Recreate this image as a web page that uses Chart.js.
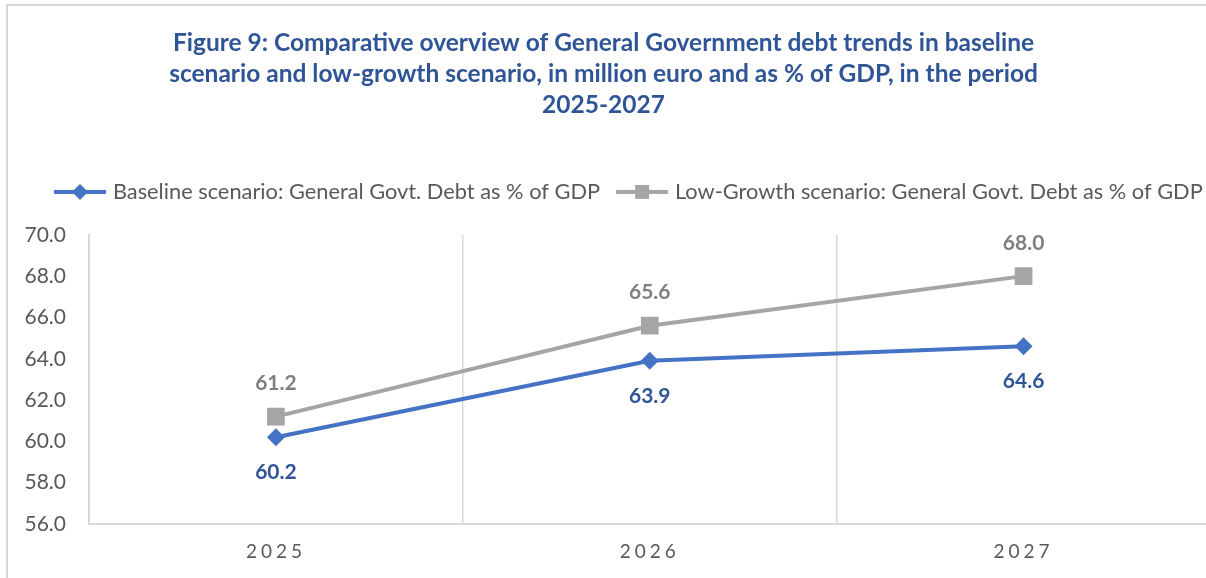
<!DOCTYPE html>
<html>
<head>
<meta charset="utf-8">
<script src="https://cdn.jsdelivr.net/npm/chart.js@4.4.1/dist/chart.umd.min.js"></script>
<style>
  html, body { margin: 0; padding: 0; background: #fff; overflow: hidden; scrollbar-width: none; }
  ::-webkit-scrollbar { display: none; width: 0; height: 0; }
  #marco { position: absolute; left: 6px; top: 4px; width: 1198px; height: 572px; overflow: hidden; border-left: 2px solid #d9d9d9; border-top: 2px solid #d9d9d9; }
  #grafica { position: absolute; left: 0; top: 0; }
</style>
</head>
<body>
<div id="marco"><canvas id="grafica" width="1215" height="572"></canvas></div>
<script>
const anios = ['2025', '2026', '2027'];
const deudaBase = [60.2, 63.9, 64.6];
const deudaBajo = [61.2, 65.6, 68.0];
const ticksY = [56, 58, 60, 62, 64, 66, 68, 70];
const titulo = [
  'Figure 9: Comparative overview of General Government debt trends in baseline',
  'scenario and low-growth scenario, in million euro and as % of GDP, in the period',
  '2025-2027'
];
const nombres = [
  'Baseline scenario: General Govt. Debt as % of GDP',
  'Low-Growth scenario: General Govt. Debt as % of GDP'
];

const AZUL = '#4472c4';
const GRIS = '#a5a5a5';
const PAD_LEYENDA = 20;

// icono de la leyenda: linea con el marcador en el centro
function iconoLeyenda(color, forma) {
  const c = document.createElement('canvas');
  c.width = 54; c.height = 20;
  const g = c.getContext('2d');
  g.strokeStyle = color;
  g.lineWidth = 4;
  g.beginPath(); g.moveTo(1, 10); g.lineTo(53, 10); g.stroke();
  g.fillStyle = color;
  if (forma === 'rombo') {
    g.beginPath(); g.moveTo(27, 2); g.lineTo(35, 10); g.lineTo(27, 18); g.lineTo(19, 10); g.closePath(); g.fill();
  } else {
    g.fillRect(20, 3, 14, 14);
  }
  return c;
}
const iconos = [iconoLeyenda(AZUL, 'rombo'), iconoLeyenda(GRIS, 'cuadrado')];

// etiquetas de valores sobre/bajo cada punto
const etiquetasDatos = {
  id: 'etiquetasDatos',
  afterDatasetsDraw(chart) {
    const ctx = chart.ctx;
    chart.data.datasets.forEach((ds, i) => {
      const meta = chart.getDatasetMeta(i);
      ctx.save();
      ctx.font = 'bold 21px Lato';
      ctx.fillStyle = ds.colorEtiqueta;
      ctx.textAlign = 'center';
      ctx.textBaseline = 'middle';
      meta.data.forEach((pt, j) => {
        ctx.fillText(ds.data[j].toFixed(1), pt.x, pt.y + ds.desfaseEtiqueta);
      });
      ctx.restore();
    });
  }
};

// corre el titulo y la leyenda para que queden donde en el original
const ajusteCajas = {
  id: 'ajusteCajas',
  afterLayout(chart) {
    const t = chart.titleBlock;
    const dt = 595.5 - (t.left + t.right) / 2;
    t.left += dt; t.right += dt;
    const lg = chart.legend;
    const x0 = (lg.left + PAD_LEYENDA + lg.right - lg.lineWidths[0]) / 2;
    const d = 50 - x0;
    lg.left += d; lg.right += d;
  }
};

const ctx = document.getElementById('grafica').getContext('2d');
const grafica = new Chart(ctx, {
  type: 'line',
  data: {
    labels: anios,
    datasets: [{
      label: nombres[0],
      data: deudaBase,
      borderColor: AZUL,
      backgroundColor: AZUL,
      borderWidth: 4,
      pointStyle: 'rectRot',
      pointRadius: 9,
      pointBorderWidth: 0,
      colorEtiqueta: '#2f5597',
      desfaseEtiqueta: 35,
      xAxisID: 'x',
      yAxisID: 'y'
    }, {
      label: nombres[1],
      data: deudaBajo,
      borderColor: GRIS,
      backgroundColor: GRIS,
      borderWidth: 4,
      pointStyle: 'rect',
      pointRadius: 12.5,
      pointBorderWidth: 0,
      colorEtiqueta: '#7f7f7f',
      desfaseEtiqueta: -33,
      xAxisID: 'x',
      yAxisID: 'y'
    }]
  },
  options: {
    responsive: false,
    animation: false,
    layout: { padding: 0 },
    plugins: {
      tooltip: { enabled: false },
      title: {
        display: true,
        text: titulo,
        color: '#2f5597',
        font: { family: 'Lato', size: 24.5, weight: 'bold', lineHeight: 31 / 24.5 },
        padding: { top: 22, bottom: 40 }
      },
      legend: {
        position: 'top',
        labels: {
          usePointStyle: true,
          pointStyleWidth: 44,
          padding: PAD_LEYENDA,
          color: '#595959',
          font: { family: 'Lato', size: 21.8 },
          generateLabels: chart => chart.data.datasets.map((ds, i) => ({
            text: ds.label,
            pointStyle: iconos[i],
            fontColor: '#595959',
            datasetIndex: i,
            hidden: false,
            lineWidth: 0
          }))
        }
      }
    },
    scales: {
      x: {
        type: 'category',
        position: 'bottom',
        offset: true,
        grid: { offset: true, color: '#d9d9d9', lineWidth: 1.5, drawTicks: false },
        border: { display: true, color: '#d9d9d9', width: 2 },
        ticks: { color: '#595959', font: { family: 'Lato', size: 19 }, padding: 16 },
        afterFit(s) { s.height = 54; }
      },
      // espacio entre la leyenda y el area del grafico
      espacio: {
        type: 'category',
        axis: 'x',
        position: 'top',
        display: true,
        offset: true,
        grid: { display: false, drawTicks: false },
        border: { display: false },
        ticks: { display: false },
        afterFit(s) { s.height = 22; }
      },
      y: {
        min: 56,
        max: 70,
        grid: { display: false, drawTicks: false },
        border: { display: true, color: '#d9d9d9', width: 2 },
        ticks: {
          color: '#595959',
          font: { family: 'Lato', size: 21 },
          padding: 23,
          callback: v => v.toFixed(1)
        },
        afterBuildTicks(s) { s.ticks = ticksY.map(v => ({ value: v })); },
        afterFit(s) { s.width = 81; }
      }
    }
  },
  plugins: [etiquetasDatos, ajusteCajas]
});

// letras espaciadas en los años del eje x
const ejeX = grafica.scales.x;
const dibujarEtiquetas = ejeX.drawLabels.bind(ejeX);
ejeX.drawLabels = function (area) {
  this.ctx.save();
  this.ctx.letterSpacing = '4px';
  dibujarEtiquetas(area);
  this.ctx.restore();
};
grafica.draw();
</script>
</body>
</html>
